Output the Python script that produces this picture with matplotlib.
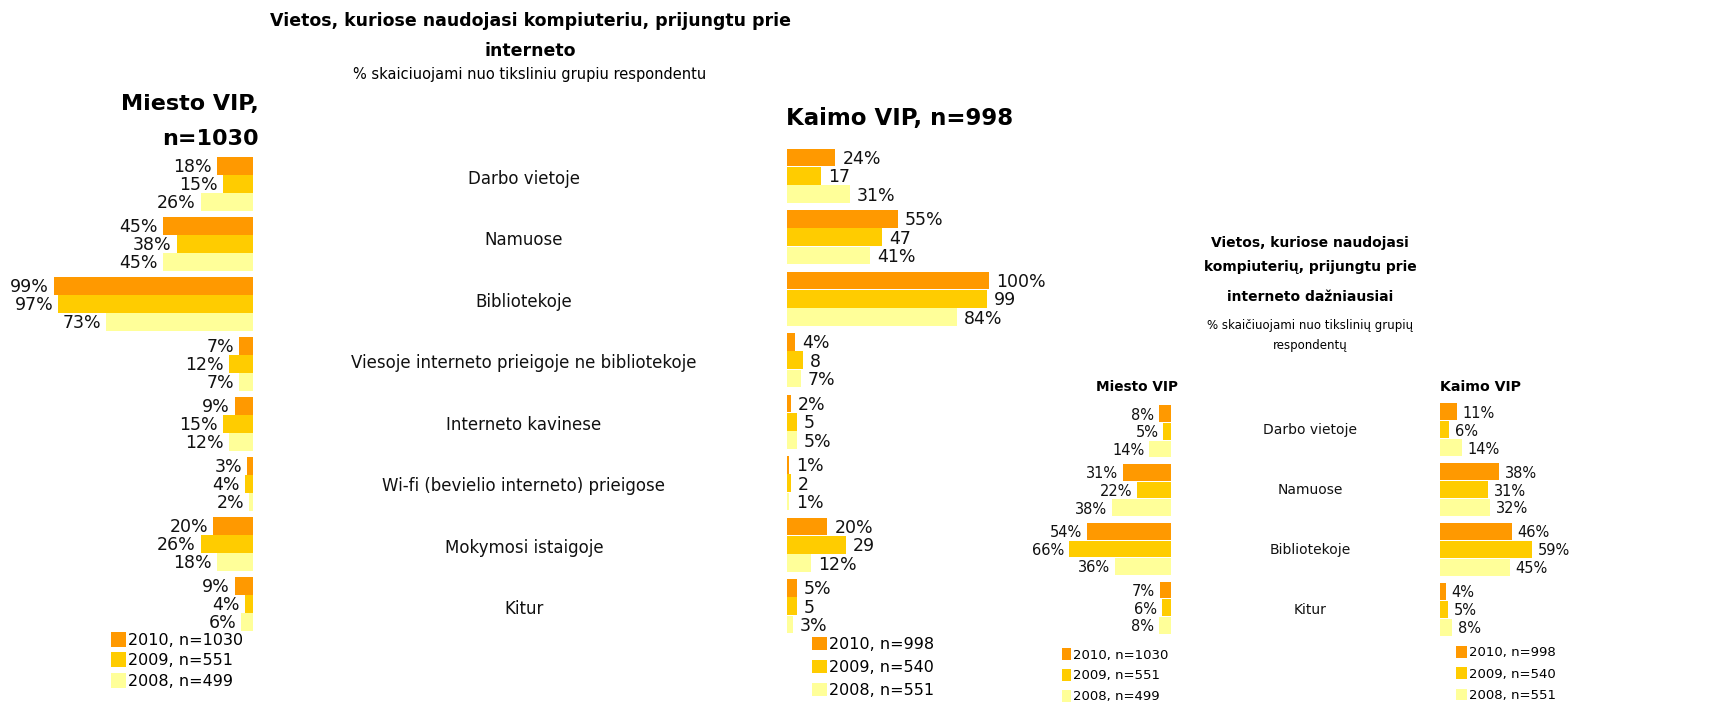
import numpy as np
import matplotlib
matplotlib.use("Agg")
from matplotlib import pyplot as plt
from matplotlib.patches import Patch
from matplotlib.transforms import blended_transform_factory

W, H = 1730, 702

categories = ["Darbo vietoje", "Namuose", "Bibliotekoje",
              "Viesoje interneto prieigoje ne bibliotekoje", "Interneto kavinese",
              "Wi-fi (bevielio interneto) prieigose", "Mokymosi istaigoje", "Kitur"]

miesto_2010 = [18, 45, 99, 7, 9, 3, 20, 9]
miesto_2009 = [15, 38, 97, 12, 15, 4, 26, 4]
miesto_2008 = [26, 45, 73, 7, 12, 2, 18, 6]
kaimo_2010 = [24, 55, 100, 4, 2, 1, 20, 5]
kaimo_2009 = [17, 47, 99, 8, 5, 2, 29, 5]
kaimo_2008 = [31, 41, 84, 7, 5, 1, 12, 3]

often_categories = ["Darbo vietoje", "Namuose", "Bibliotekoje", "Kitur"]
often_miesto_2010 = [8, 31, 54, 7]
often_miesto_2009 = [5, 22, 66, 6]
often_miesto_2008 = [14, 38, 36, 8]
often_kaimo_2010 = [11, 38, 46, 4]
often_kaimo_2009 = [6, 31, 59, 5]
often_kaimo_2008 = [14, 32, 45, 8]

miesto_legend = ["2010, n=1030", "2009, n=551", "2008, n=499"]
kaimo_legend = ["2010, n=998", "2009, n=540", "2008, n=551"]

colors = ["#FF9900", "#FFCC00", "#FFFF99"]

plt.rcParams['font.family'] = ['DejaVu Sans']
fig = plt.figure(figsize=(W / 100, H / 100), dpi=100)


def axes_px(left, top, width, height):
    return fig.add_axes([left / W, 1 - (top + height) / H, width / W, height / H])


def ftext(x, y, s, **kw):
    return fig.text(x / W, 1 - y / H, s, **kw)


def draw_panel(ax, series, flip, fs, pad, nopct=None):
    n = len(series[0])
    y = np.arange(n)
    for k, (vals, c) in enumerate(zip(series, colors)):
        yy = y + (k - 1) * 0.3
        ax.barh(yy, vals, height=0.285, color=c)
        for v, yv in zip(vals, yy):
            s = "%d" % v if nopct == k else "%d%%" % v
            ax.annotate(s, xy=(v, yv), xytext=(-pad if flip else pad, -1),
                        textcoords='offset points', va='center',
                        ha='right' if flip else 'left', fontsize=fs,
                        color='#111111', annotation_clip=False)
    ax.set_xlim((100, 0) if flip else (0, 100))
    ax.set_ylim(n - 0.5, -0.5)
    ax.axis('off')


def add_legend(ax, labels, x, y, fs, hl, hh, sp):
    handles = [Patch(facecolor=c, edgecolor='none') for c in colors]
    ax.legend(handles, labels, loc='upper left', bbox_to_anchor=(x / W, 1 - y / H),
              bbox_transform=fig.transFigure, frameon=False, fontsize=fs,
              handlelength=hl, handleheight=hh, handletextpad=0.1,
              labelspacing=sp, borderpad=0, borderaxespad=0)


# main chart
ax_m = axes_px(52, 154, 201, 480)
draw_panel(ax_m, [miesto_2010, miesto_2009, miesto_2008], True, 12.5, 3.5)
ax_k = axes_px(787, 145, 202, 492)
draw_panel(ax_k, [kaimo_2010, kaimo_2009, kaimo_2008], False, 12.5, 5, nopct=1)

tr = blended_transform_factory(fig.transFigure, ax_k.transData)
for i, c in enumerate(categories):
    ax_k.text(524 / W, i + 0.05, c, transform=tr, ha='center', va='center',
              fontsize=12, color='#111111')

add_legend(ax_m, miesto_legend, 111, 632, 11.5, 0.95, 1.05, 0.29)
add_legend(ax_k, kaimo_legend, 812, 637, 11.5, 0.95, 0.9, 0.49)

ftext(530, 21, "Vietos, kuriose naudojasi kompiuteriu, prijungtu prie", ha='center',
      va='center', fontsize=12.5, fontweight='bold')
ftext(530, 51, "interneto", ha='center', va='center', fontsize=12.5, fontweight='bold')
ftext(530, 75, "% skaiciuojami nuo tiksliniu grupiu respondentu", ha='center',
      va='center', fontsize=10.5)
ftext(259, 104, "Miesto VIP,", ha='right', va='center', fontsize=16, fontweight='bold')
ftext(259, 139, "n=1030", ha='right', va='center', fontsize=16, fontweight='bold')
ftext(786, 119, "Kaimo VIP, n=998", ha='left', va='center', fontsize=16.5, fontweight='bold')

# most often chart
ax_sm = axes_px(1016, 402, 155, 235)
draw_panel(ax_sm, [often_miesto_2010, often_miesto_2009, often_miesto_2008], True, 10.5, 3.5)
ax_sk = axes_px(1440, 400, 156, 239)
draw_panel(ax_sk, [often_kaimo_2010, often_kaimo_2009, often_kaimo_2008], False, 10.5, 4)

tr2 = blended_transform_factory(fig.transFigure, ax_sk.transData)
for i, c in enumerate(often_categories):
    ax_sk.text(1310 / W, i + 0.01, c, transform=tr2, ha='center', va='center',
               fontsize=10, color='#111111')

add_legend(ax_sm, miesto_legend, 1062, 648, 9.5, 0.7, 1.05, 0.55)
add_legend(ax_sk, kaimo_legend, 1456, 646, 9.5, 0.85, 1.0, 0.6)

ftext(1310, 243, "Vietos, kuriose naudojasi", ha='center', va='center',
      fontsize=10, fontweight='bold')
ftext(1310, 267, "kompiuterių, prijungtu prie", ha='center', va='center',
      fontsize=10, fontweight='bold')
ftext(1310, 297, "interneto dažniausiai", ha='center', va='center',
      fontsize=10, fontweight='bold')
ftext(1310, 326, "% skaičiuojami nuo tikslinių grupių", ha='center', va='center', fontsize=8.5)
ftext(1310, 346, "respondentų", ha='center', va='center', fontsize=8.5)
ftext(1137, 387, "Miesto VIP", ha='center', va='center', fontsize=9.8, fontweight='bold')
ftext(1480, 387, "Kaimo VIP", ha='center', va='center', fontsize=10.2, fontweight='bold')

fig.savefig("out.png", dpi=100)
